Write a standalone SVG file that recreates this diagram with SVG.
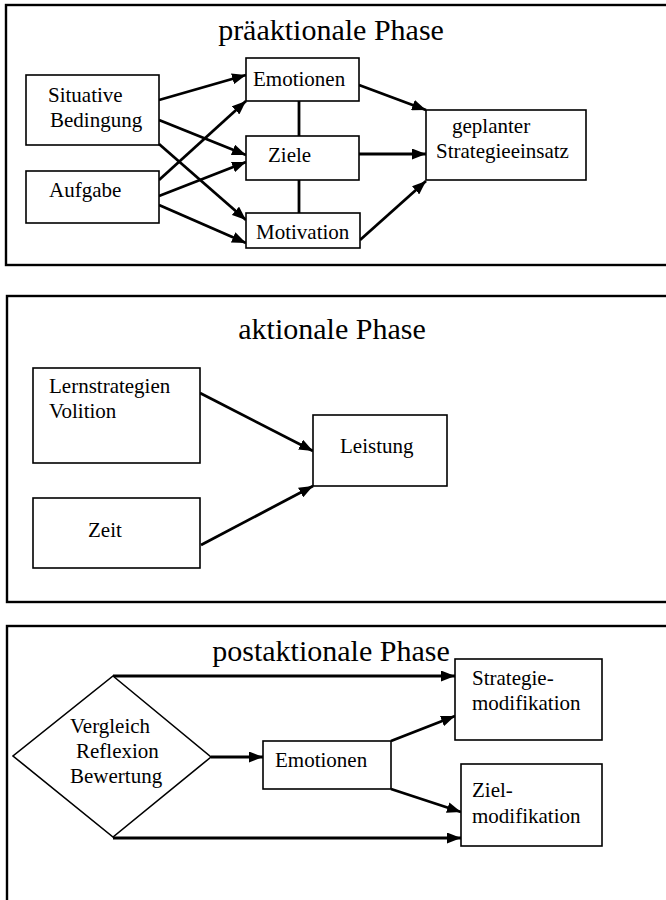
<svg xmlns="http://www.w3.org/2000/svg" width="666" height="900" viewBox="0 0 666 900">
<style>
  text { font-family: "Liberation Serif", "Times New Roman", serif; fill: #000; }
  .t { font-size: 21px; }
  .title { font-size: 30px; text-anchor: middle; }
  .panel { fill: none; stroke: #000; stroke-width: 2.4; }
  .box { fill: #fff; stroke: #000; stroke-width: 1.6; }
  .c { fill: none; stroke: #000; stroke-width: 2.8; }
  .a { fill: none; stroke: #000; stroke-width: 2.8; marker-end: url(#ah); }
</style>
<defs>
  <marker id="ah" viewBox="0 0 14 11" refX="14" refY="5.5" markerWidth="14" markerHeight="11" orient="auto" markerUnits="userSpaceOnUse">
    <path d="M0,0 L14,5.5 L0,11 z" fill="#000"/>
  </marker>
</defs>
<rect width="666" height="900" fill="#fff"/>

<g id="panel-praeaktional">
  <rect class="panel" x="6" y="5" width="680" height="260"/>
  <text class="title" x="331" y="40">präaktionale Phase</text>
</g>
<g id="panel-aktional">
  <rect class="panel" x="7" y="296" width="680" height="306"/>
  <text class="title" x="332" y="339">aktionale Phase</text>
</g>
<g id="panel-postaktional">
  <rect class="panel" x="7" y="626" width="680" height="300"/>
  <text class="title" x="331" y="661">postaktionale Phase</text>
</g>

<g id="connectors">
  <line class="a" x1="159" y1="100" x2="246" y2="75"/>
  <line class="a" x1="159" y1="120" x2="246" y2="155"/>
  <line class="a" x1="159" y1="144" x2="246" y2="220"/>
  <line class="a" x1="159" y1="180" x2="246" y2="101"/>
  <line class="a" x1="159" y1="196" x2="246" y2="162"/>
  <line class="a" x1="159" y1="205" x2="246" y2="243"/>
  <line class="c" x1="299" y1="101" x2="299" y2="136"/>
  <line class="c" x1="299" y1="180" x2="299" y2="213"/>
  <line class="a" x1="359" y1="85" x2="426" y2="110"/>
  <line class="a" x1="359" y1="154" x2="426" y2="154"/>
  <line class="a" x1="360" y1="240" x2="426" y2="181"/>
  <line class="a" x1="200" y1="393" x2="313" y2="451"/>
  <line class="a" x1="201" y1="545" x2="313" y2="486"/>
  <line class="a" x1="113" y1="676" x2="455" y2="676"/>
  <line class="a" x1="211" y1="757" x2="263" y2="757"/>
  <line class="a" x1="391" y1="741" x2="455" y2="716"/>
  <line class="a" x1="391" y1="789" x2="461" y2="812"/>
  <line class="a" x1="113" y1="838" x2="461" y2="838"/>
</g>

<g id="situative-bedingung">
  <rect class="box" x="26" y="75" width="133" height="70"/>
  <text class="t" x="48" y="102">Situative</text>
  <text class="t" x="50" y="127">Bedingung</text>
</g>
<g id="aufgabe">
  <rect class="box" x="26" y="171" width="133" height="52"/>
  <text class="t" x="49" y="197">Aufgabe</text>
</g>
<g id="emotionen-1">
  <rect class="box" x="246" y="58" width="113" height="43"/>
  <text class="t" x="253" y="86">Emotionen</text>
</g>
<g id="ziele">
  <rect class="box" x="246" y="136" width="113" height="44"/>
  <text class="t" x="268" y="162">Ziele</text>
</g>
<g id="motivation">
  <rect class="box" x="246" y="213" width="114" height="35"/>
  <text class="t" x="256" y="239">Motivation</text>
</g>
<g id="geplanter-strategieeinsatz">
  <rect class="box" x="426" y="110" width="160" height="70"/>
  <text class="t" x="452" y="133">geplanter</text>
  <text class="t" x="436" y="158">Strategieeinsatz</text>
</g>

<g id="lernstrategien-volition">
  <rect class="box" x="33" y="368" width="167" height="95"/>
  <text class="t" x="49" y="393">Lernstrategien</text>
  <text class="t" x="49" y="418">Volition</text>
</g>
<g id="zeit">
  <rect class="box" x="33" y="498" width="167" height="70"/>
  <text class="t" x="88" y="537">Zeit</text>
</g>
<g id="leistung">
  <rect class="box" x="313" y="415" width="134" height="71"/>
  <text class="t" x="340" y="453">Leistung</text>
</g>

<g id="vergleich-reflexion-bewertung">
  <polygon class="box" points="113,676 211,757 113,837 13,756"/>
  <text class="t" x="70" y="733">Vergleich</text>
  <text class="t" x="76" y="758">Reflexion</text>
  <text class="t" x="70" y="783">Bewertung</text>
</g>
<g id="emotionen-2">
  <rect class="box" x="263" y="741" width="128" height="48"/>
  <text class="t" x="275" y="767">Emotionen</text>
</g>
<g id="strategiemodifikation">
  <rect class="box" x="455" y="659" width="147" height="81"/>
  <text class="t" x="472" y="685">Strategie-</text>
  <text class="t" x="472" y="710">modifikation</text>
</g>
<g id="zielmodifikation">
  <rect class="box" x="461" y="764" width="141" height="82"/>
  <text class="t" x="472" y="797">Ziel-</text>
  <text class="t" x="472" y="823">modifikation</text>
</g>
</svg>
